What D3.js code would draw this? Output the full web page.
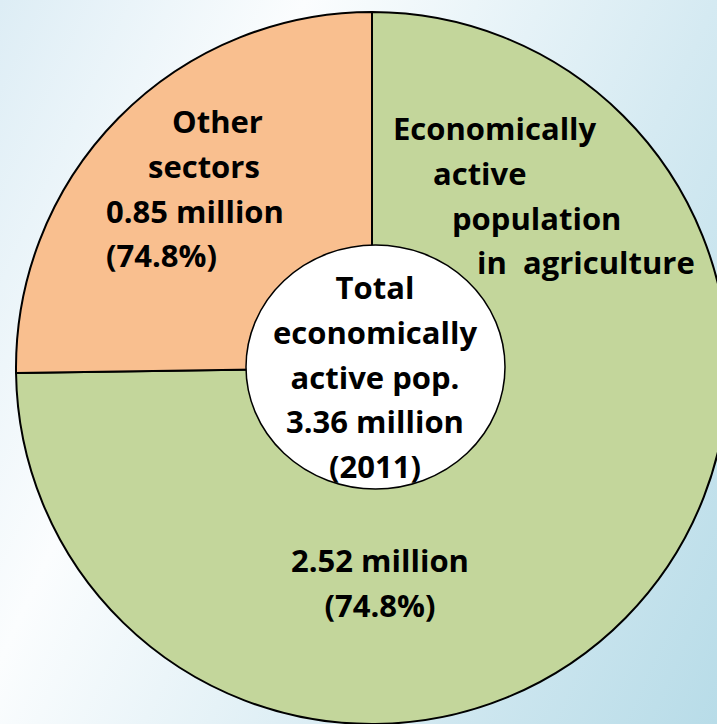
<!DOCTYPE html>
<html>
<head>
<meta charset="utf-8">
<script src="https://cdn.jsdelivr.net/npm/d3@7"></script>
<style>
  html, body { margin: 0; padding: 0; overflow: hidden; }
  text { font-family: "Open Sans", Lato, sans-serif; font-weight: bold; fill: #000; }
</style>
</head>
<body>
<svg id="chart"></svg>
<script>
// Chart data
const sectors = ["Economically active population in agriculture", "Other sectors"];
const values = [2.52, 0.85];
const colors = ["#C3D69B", "#F9BF8F"];
const agriLines = ["Economically", "active", "population", "in  agriculture"];
const otherLines = ["Other", "sectors", "0.85 million", "(74.8%)"];
const agriValueLines = ["2.52 million", "(74.8%)"];
const totalLines = ["Total", "economically", "active pop.", "3.36 million", "(2011)"];

const width = 717;
const height = 724;
const cx = 372;
const cy = 368;
const radius = 356;
const fontSize = 31;

const svg = d3.select("#chart").attr("width", width).attr("height", height);

// Soft blue background wash
const defs = svg.append("defs");
const grad = defs.append("linearGradient")
  .attr("id", "bg")
  .attr("gradientUnits", "userSpaceOnUse")
  .attr("x1", -247).attr("y1", 536)
  .attr("x2", 619).attr("y2", 936);
grad.append("stop").attr("offset", 0).attr("stop-color", "#DDEDF5");
grad.append("stop").attr("offset", 0.29).attr("stop-color", "#FBFDFE");
grad.append("stop").attr("offset", 0.68).attr("stop-color", "#D5EAF2");
grad.append("stop").attr("offset", 1).attr("stop-color", "#B8DCE8");

svg.append("rect")
  .attr("width", width)
  .attr("height", height)
  .attr("fill", "url(#bg)");

// Pie slices, starting at 12 o'clock, clockwise
const pie = d3.pie().sort(null).value((d) => d);
const arc = d3.arc().innerRadius(0).outerRadius(radius);

const g = svg.append("g").attr("transform", `translate(${cx}, ${cy})`);

g.selectAll("path")
  .data(pie(values))
  .enter()
  .append("path")
  .attr("d", arc)
  .attr("fill", (d, i) => colors[i])
  .attr("stroke", "#000")
  .attr("stroke-width", 2)
  .attr("stroke-linejoin", "round");

// White centre oval
g.append("ellipse")
  .attr("cx", 3.5)
  .attr("cy", -1)
  .attr("rx", 129.5)
  .attr("ry", 122)
  .attr("fill", "#fff")
  .attr("stroke", "#000")
  .attr("stroke-width", 1.5);

const lineGap = 44.8;

function addLines(lines, x, y0, anchor, xs) {
  lines.forEach((t, i) => {
    g.append("text")
      .attr("x", xs ? xs[i] : x)
      .attr("y", y0 + i * lineGap)
      .attr("text-anchor", anchor)
      .style("font-size", `${fontSize}px`)
      .style("white-space", "pre")
      .text(t);
  });
}

// Other sectors label (left aligned, staggered)
addLines(otherLines, 0, 133 - cy, "start", [172 - cx, 148 - cx, 106 - cx, 106 - cx]);

// Agriculture label (staggered)
addLines(agriLines, 0, 140 - cy, "start", [393 - cx, 433 - cx, 452 - cx, 477 - cx]);

// Agriculture value
addLines(agriValueLines, 380 - cx, 572 - cy, "middle");

// Total in centre
addLines(totalLines, 375 - cx, 299 - cy, "middle");
</script>
</body>
</html>
